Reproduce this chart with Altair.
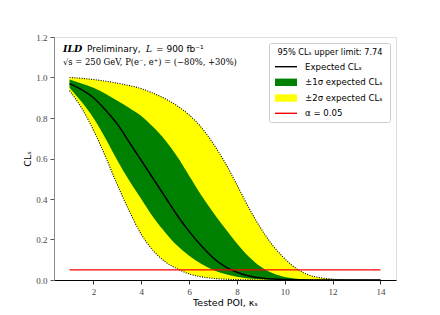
import altair as alt
import pandas as pd

# ---- data ----
poi = [1.0, 1.5, 2.0, 2.5, 3.0, 3.5, 4.0, 4.5, 5.0, 5.5, 6.0, 6.5, 7.0, 7.5,
       8.0, 8.5, 9.0, 9.5, 10.0, 10.5, 11.0, 11.5, 12.0, 12.5, 13.0, 13.5, 14.0]
expected = [0.97, 0.94, 0.90, 0.84, 0.77, 0.68, 0.59, 0.50, 0.41, 0.32, 0.24, 0.17,
            0.11, 0.066, 0.038, 0.02, 0.01, 0.005, 0.002, 0.001, 0.0005, 0.0002,
            0.0001, 0.0, 0.0, 0.0, 0.0]
plus1 = [0.99, 0.97, 0.95, 0.92, 0.885, 0.85, 0.81, 0.755, 0.69, 0.61, 0.515, 0.42,
         0.335, 0.255, 0.18, 0.115, 0.065, 0.033, 0.015, 0.006, 0.0025, 0.001,
         0.0004, 0.0001, 0.0, 0.0, 0.0]
minus1 = [0.95, 0.88, 0.80, 0.70, 0.59, 0.49, 0.40, 0.31, 0.235, 0.17, 0.12, 0.08,
          0.05, 0.03, 0.016, 0.008, 0.004, 0.002, 0.001, 0.0, 0.0, 0.0, 0.0, 0.0,
          0.0, 0.0, 0.0]
plus2 = [1.0, 0.996, 0.99, 0.982, 0.972, 0.96, 0.945, 0.922, 0.895, 0.86, 0.815, 0.755,
         0.675, 0.58, 0.47, 0.355, 0.255, 0.17, 0.105, 0.055, 0.025, 0.011, 0.004,
         0.0015, 0.0005, 0.0002, 0.0]
minus2 = [0.935, 0.85, 0.74, 0.61, 0.47, 0.34, 0.225, 0.145, 0.09, 0.055, 0.03, 0.016,
          0.008, 0.004, 0.002, 0.001, 0.0, 0.0, 0.0, 0.0, 0.0, 0.0, 0.0, 0.0, 0.0,
          0.0, 0.0]
alpha_x = [1.0, 14.0]
alpha_level = 0.05
upper_limit = 7.74
x_ticks = [2, 4, 6, 8, 10, 12, 14]
y_ticks = [0.0, 0.2, 0.4, 0.6, 0.8, 1.0, 1.2]
legend_labels = ["Expected CLₛ", "±1σ expected CLₛ", "±2σ expected CLₛ", "α = 0.05"]

df = pd.DataFrame({"poi": poi, "exp": expected, "p1": plus1, "m1": minus1,
                   "p2": plus2, "m2": minus2})
alpha_df = pd.DataFrame({"poi": alpha_x, "cl": [alpha_level] * len(alpha_x)})

xs = alt.Scale(domain=[0.35, 14.65], nice=False, zero=False)
ys = alt.Scale(domain=[0, 1.2], nice=False)

x_axis = alt.Axis(values=x_ticks, title="Tested POI, κₛ", grid=False, tickSize=4,
                  labelFont="Liberation Serif", labelFontSize=9, labelColor="#444",
                  titleFont="DejaVu Sans", titleFontSize=9.5, titleFontWeight="normal",
                  titleColor="#000", domainColor="#000", tickColor="#333", labelPadding=3,
                  titleBaseline="alphabetic", titleY=25)
y_axis = alt.Axis(values=y_ticks, format=".1f", title="CLₛ", grid=False, tickSize=4,
                  labelFont="Liberation Serif", labelFontSize=9, labelColor="#444",
                  titleFont="DejaVu Sans", titleFontSize=9.5, titleFontWeight="normal",
                  titleColor="#000", domainColor="#888", tickColor="#555", labelPadding=3,
                  titlePadding=3)

base = alt.Chart(df)
yellow = base.mark_area(color="#ffff00", interpolate="monotone").encode(
    x=alt.X("poi:Q", scale=xs, axis=x_axis),
    y=alt.Y("m2:Q", scale=ys, axis=y_axis),
    y2="p2:Q")
green = base.mark_area(color="#008000", interpolate="monotone").encode(
    x=alt.X("poi:Q", scale=xs), y=alt.Y("m1:Q", scale=ys), y2="p1:Q")
dot_lo = base.mark_line(color="black", strokeWidth=1.1, strokeDash=[1, 1.4],
                        interpolate="monotone").encode(
    x=alt.X("poi:Q", scale=xs), y=alt.Y("m2:Q", scale=ys))
dot_hi = base.mark_line(color="black", strokeWidth=1.1, strokeDash=[1, 1.4],
                        interpolate="monotone").encode(
    x=alt.X("poi:Q", scale=xs), y=alt.Y("p2:Q", scale=ys))
exp_line = base.mark_line(color="black", strokeWidth=1.5, interpolate="monotone").encode(
    x=alt.X("poi:Q", scale=xs), y=alt.Y("exp:Q", scale=ys))
red = alt.Chart(alpha_df).mark_line(color="#ff0000", strokeWidth=1.3).encode(
    x=alt.X("poi:Q", scale=xs), y=alt.Y("cl:Q", scale=ys))

layers = [yellow, green, dot_lo, dot_hi, exp_line, red]

# ---- annotation ----
def txt(s, x, y, **kw):
    return alt.Chart(pd.DataFrame({"t": [s]})).mark_text(align="left", baseline="middle",
                                                          **kw).encode(
        text="t:N", x=alt.value(x), y=alt.value(y))

layers += [
    txt("ILD", 9, 11.5, font="DejaVu Serif", fontSize=9.5, fontStyle="italic",
        fontWeight="bold", color="black"),
    txt("Preliminary, ", 33, 11.5, font="DejaVu Sans", fontSize=9, color="black"),
    txt("L", 92, 11.5, font="DejaVu Serif", fontSize=9, fontStyle="italic", color="black"),
    txt("= 900 fb⁻¹", 102, 11.5, font="DejaVu Sans", fontSize=9, color="black"),
    txt("√s = 250 GeV, P(e⁻, e⁺) = (−80%, +30%)", 9, 24.5, font="DejaVu Serif",
        fontSize=8.4, color="black"),
]

# ---- legend ----
lx0, lx1, ly0, ly1 = 215.5, 336.5, 6.5, 85.5
frame = alt.Chart(pd.DataFrame({"t": [""]})).mark_rect(
    fill="white", fillOpacity=0.85, stroke="#cccccc", strokeWidth=1, cornerRadius=2).encode(
    x=alt.value(lx0), x2=alt.value(lx1), y=alt.value(ly0), y2=alt.value(ly1))
layers.append(frame)
title = alt.Chart(pd.DataFrame({"t": [f"95% CLₛ upper limit: {upper_limit:.2f}"]})).mark_text(
    align="center", baseline="middle", font="DejaVu Sans", fontSize=8.2, color="black").encode(
    text="t:N", x=alt.value((lx0 + lx1) / 2), y=alt.value(15.5))
layers.append(title)

rows_y = [29.7, 45.3, 61.0, 76.3]
hx0, hx1, tx = 221, 243, 251
handle_style = [("line", "black"), ("rect", "#008000"), ("rect", "#ffff00"), ("line", "#ff0000")]
for (kind, col), yy, lab in zip(handle_style, rows_y, legend_labels):
    one = pd.DataFrame({"t": [lab]})
    if kind == "line":
        layers.append(alt.Chart(one).mark_rule(color=col, strokeWidth=1.4).encode(
            x=alt.value(hx0), x2=alt.value(hx1), y=alt.value(yy)))
    else:
        layers.append(alt.Chart(one).mark_rect(color=col).encode(
            x=alt.value(hx0), x2=alt.value(hx1), y=alt.value(yy - 3.7), y2=alt.value(yy + 3.7)))
    layers.append(alt.Chart(one).mark_text(align="left", baseline="middle", font="DejaVu Sans",
                                           fontSize=8.6, color="black").encode(
        text="t:N", x=alt.value(tx), y=alt.value(yy)))

chart = alt.layer(*layers).properties(
    width=342, height=243, autosize="none",
    padding={"left": 46, "top": 29, "right": 36, "bottom": 27},
).configure_view(stroke="#888888", strokeWidth=1.2).configure(background="white")

chart.save("out.html", embed_options={"renderer": "svg", "actions": False})
